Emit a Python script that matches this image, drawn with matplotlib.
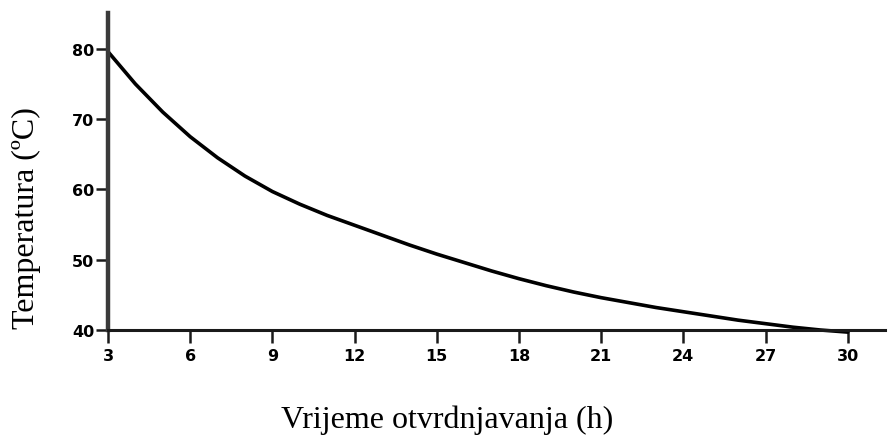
import matplotlib
matplotlib.use("Agg")
import matplotlib.pyplot as plt

hours = [3, 4, 5, 6, 7, 8, 9, 10, 11, 12, 13, 14, 15, 16, 17, 18, 19, 20,
         21, 22, 23, 24, 25, 26, 27, 28, 29, 30]
temps = [79.6, 75.0, 71.0, 67.5, 64.5, 61.9, 59.7, 57.9, 56.3, 54.9, 53.5, 52.1,
         50.8, 49.6, 48.4, 47.3, 46.3, 45.4, 44.6, 43.9, 43.2, 42.6, 42.0, 41.4,
         40.9, 40.4, 40.0, 39.7]
xticks = [3, 6, 9, 12, 15, 18, 21, 24, 27, 30]
yticks = [40, 50, 60, 70, 80]

fig = plt.figure(figsize=(8.89, 4.39), dpi=100)
ax = fig.add_axes([108/889, 1 - 331/439, (885-108)/889, (331-14)/439])

ax.plot(hours, temps, color='black', lw=2.6, solid_capstyle='round',
        solid_joinstyle='round', clip_on=False)

ax.set_xlim(3, 31.36)
ax.set_ylim(40, 85.1)
ax.set_xticks(xticks)
ax.set_yticks(yticks)
ax.set_xticklabels([str(t) for t in xticks], fontsize=11.5, fontweight='bold', family='DejaVu Sans')
ax.set_yticklabels([str(t) for t in yticks], fontsize=11.5, fontweight='bold', family='DejaVu Sans')

for s in ['top', 'right']:
    ax.spines[s].set_visible(False)
ax.spines['left'].set_linewidth(3.2)
ax.spines['left'].set_color('#3a3a3a')
ax.spines['bottom'].set_linewidth(2.2)
ax.spines['bottom'].set_color('#1a1a1a')
ax.tick_params(axis='y', direction='out', length=9, width=1.8, color='#1a1a1a', pad=1)
ax.tick_params(axis='x', direction='out', length=9, width=1.8, color='#1a1a1a', pad=4)

ax.set_ylabel('Temperatura (ºC)', fontsize=23, family='Liberation Serif')
ax.yaxis.set_label_coords((41-108)/777, (331-218)/317)
ax.set_xlabel('Vrijeme otvrdnjavanja (h)', fontsize=23, family='Liberation Serif')
ax.xaxis.set_label_coords((447-108)/777, -(406-331)/317)

fig.savefig('out.png', dpi=100)
